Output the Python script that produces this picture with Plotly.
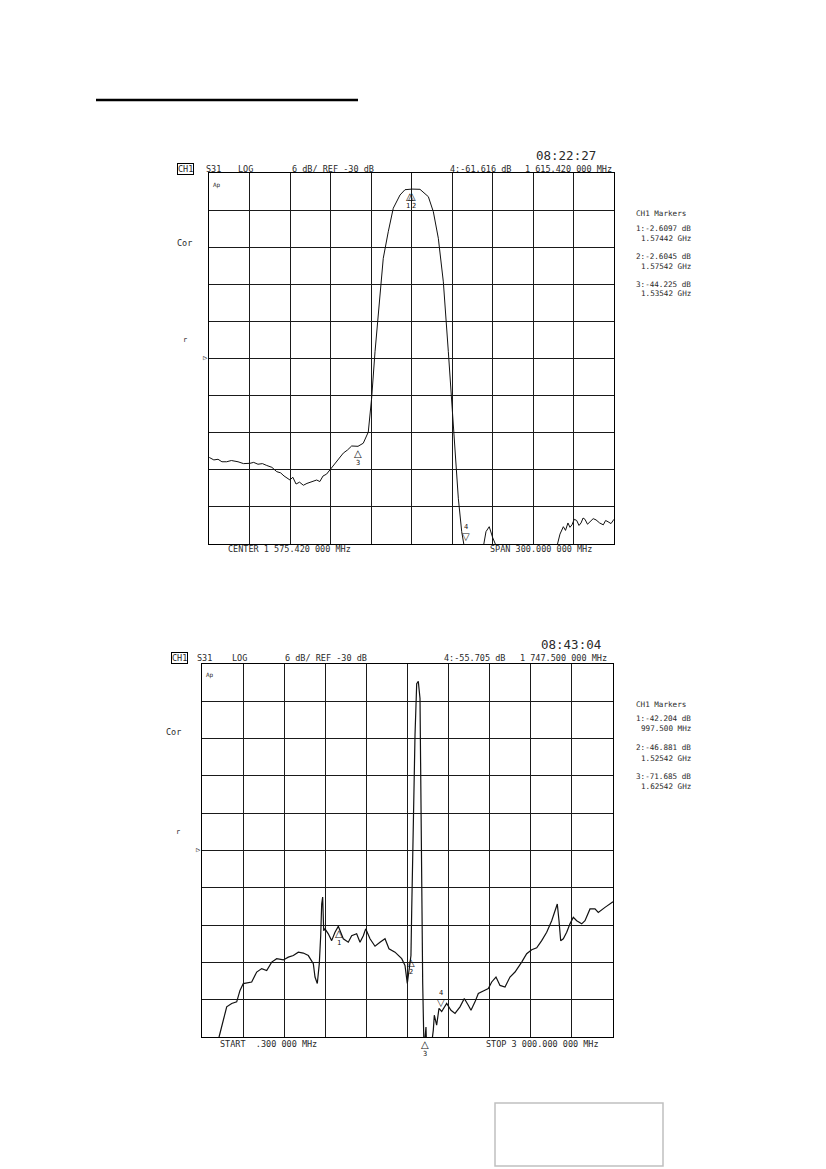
import plotly.graph_objects as go

W, H = 826, 1169
OFF = 8  # default body margin of the html page

# ---- chart 1: S31, center 1575.42 MHz, span 300 MHz ----
f1 = [1425.6, 1429.0, 1432.1, 1435.0, 1438.5, 1442.0, 1446.9, 1451.0, 1455.8, 1458.5,
      1461.7, 1465.0, 1468.2, 1472.0, 1475.6, 1478.5, 1481.0, 1483.5, 1485.4, 1487.5,
      1489.9, 1492.5, 1495.3, 1498.0, 1500.2, 1503.0, 1505.2, 1507.5, 1509.9, 1512.5,
      1515.0, 1517.5, 1520.2, 1522.5, 1524.9, 1528.0, 1531.1, 1535.8,
      1539.7, 1543.4, 1545.9, 1548.4, 1550.8, 1554.5, 1558.2, 1561.9, 1566.9, 1570.6,
      1575.8, 1581.7, 1587.9, 1591.6, 1595.3, 1599.0, 1602.7, 1605.2, 1607.6, 1610.1,
      1612.6, 1615.4, 1628.6, 1630.6, 1633.0, 1635.6, 1638.5, 1683.0, 1685.4, 1687.9,
      1689.5, 1691.3, 1692.8, 1694.3, 1696.0, 1697.8, 1699.5, 1701.0, 1702.5, 1703.9,
      1705.8, 1707.6, 1710.0, 1712.1, 1714.8, 1717.5, 1719.2, 1721.0, 1723.2, 1725.4]
db1 = [-46.0, -46.4, -46.3, -46.7, -46.7, -46.5, -46.7, -47.0, -46.95, -46.8,
       -47.1, -47.0, -47.3, -47.6, -48.3, -48.5, -49.0, -49.4, -49.65, -49.2,
       -50.3, -50.0, -50.5, -50.2, -50.0, -49.8, -49.65, -49.9, -49.0, -48.7,
       -48.0, -47.4, -46.7, -46.0, -45.3, -44.8, -44.15, -44.2,
       -43.7, -41.9, -36.4, -28.9, -22.4, -13.8, -9.5, -5.7, -3.56, -2.7,
       -2.6, -2.64, -3.83, -6.26, -10.56, -17.6, -28.9, -36.4, -44.5, -52.6,
       -58.0, -61.6, -60.5, -58.0, -57.2, -59.0, -60.5, -60.5, -58.4, -57.2,
       -57.8, -56.6, -57.3, -56.9, -56.0, -56.2, -57.0, -56.6, -55.8, -56.0,
       -56.8, -56.4, -55.9, -56.1, -56.6, -56.9, -56.2, -56.4, -56.7, -56.0]
mk1_f = [1574.42, 1575.42, 1535.42, 1615.42]
mk1_db = [-2.6097, -2.6045, -44.225, -61.616]
mk1_lbl = ["1", "2", "3", "4"]

# ---- chart 2: S31, start 0.3 MHz, stop 3000 MHz ----
f2 = [2.5, 119, 131.7, 155.8, 180.6, 217, 253.5, 277.6, 301.7, 363,
      399.5, 436, 472.5, 509, 545.5, 594, 630.4, 666.9, 703.4, 739.8,
      776.3, 812.8, 825, 841.8, 856.4, 866.6, 873.9, 881, 888.5, 898,
      922, 946.6, 971, 995, 1031.6, 1068, 1092.6, 1129, 1153.5, 1177.6,
      1195, 1226.5, 1263, 1299.4, 1336, 1365, 1409, 1458, 1481.9, 1498.7,
      1513.3, 1525.4, 1530.8, 1542.9, 1555, 1567.3, 1579, 1591.4, 1596.5, 1604,
      1611.1, 1620.6, 1627.9, 1635, 1638, 1676.7, 1688.5, 1695.8, 1713, 1730,
      1749.6, 1786, 1817.6, 1846.9, 1883.3, 1914.7, 1943.9, 1963.6, 1992.8, 2017,
      2053.4, 2090, 2114.7, 2146, 2175.3, 2211.8, 2248.2, 2284.8, 2333.6, 2370,
      2406.7, 2443.2, 2479.6, 2516, 2552.6, 2576.7, 2593.4, 2605.9, 2618.2, 2637.3,
      2662, 2686.1, 2710.3, 2735, 2771.6, 2795.6, 2832.1, 2868.6, 2892.6, 2941.6, 3000]
db2 = [-60.5, -60.5, -59.4, -57.3, -55.15, -54.6, -54.35, -52.5, -51.4, -51.15,
       -49.55, -49.0, -49.3, -47.95, -47.4, -47.6, -47.15, -46.9, -46.35, -46.5,
       -46.9, -48.2, -50.35, -51.4, -48.2, -43.7, -38.6, -37.5, -42.9, -42.6,
       -43.4, -44.5, -43.15, -42.2, -44.2, -44.75, -43.7, -43.4, -44.75, -43.7,
       -42.6, -44.2, -45.4, -44.75, -44.2, -45.8, -46.35, -47.4, -48.5, -51.4,
       -49.3, -46.9, -39.7, -24.75, -11.4, -3.15, -2.77, -5.55, -19.4, -35.4,
       -51.4, -62.0, -60.5, -58.4, -60.5, -61.0, -58.9, -56.5, -58.1, -55.4,
       -55.9, -54.6, -55.7, -56.2, -55.15, -53.8, -54.9, -55.7, -54.35, -53.0,
       -52.6, -52.2, -51.15, -50.35, -51.7, -51.95, -50.35, -49.55, -47.95, -46.6,
       -45.95, -45.65, -44.5, -43.15, -41.3, -39.7, -38.6, -41.3, -44.5, -44.2,
       -43.15, -41.8, -40.75, -41.3, -41.8, -41.3, -39.4, -39.4, -39.95, -39.15, -38.25]
mk2_f = [997.5, 1525.42, 1625.42, 1747.5]
mk2_db = [-42.204, -46.881, -71.685, -55.705]
mk2_lbl = ["1", "2", "3", "4"]


def px(x):
    return (x - OFF) / W


def py(y):
    return 1 - (y - OFF) / H


fig = go.Figure()
fig.add_trace(go.Scatter(x=f1, y=db1, mode="lines", line=dict(color="#111", width=1),
                         xaxis="x", yaxis="y", hoverinfo="skip"))
fig.add_trace(go.Scatter(x=f2, y=db2, mode="lines", line=dict(color="#111", width=1.2),
                         xaxis="x2", yaxis="y2", hoverinfo="skip"))

grid = dict(showgrid=True, gridcolor="#1a1a1a", gridwidth=1, showticklabels=False,
            zeroline=False, showline=True, mirror=True, linecolor="#000", linewidth=1,
            ticks="", fixedrange=True)

fig.update_layout(
    width=W, height=H, margin=dict(l=0, r=0, t=0, b=0),
    paper_bgcolor="white", plot_bgcolor="white", showlegend=False,
    xaxis=dict(grid, domain=[px(209), px(614)], range=[1425.42, 1725.42],
               tick0=1425.42, dtick=30, anchor="y"),
    yaxis=dict(grid, domain=[py(544), py(173)], range=[-60, 0], tick0=0, dtick=6, anchor="x"),
    xaxis2=dict(grid, domain=[px(202), px(613)], range=[0.3, 3000],
                tick0=0.3, dtick=299.97, anchor="y2"),
    yaxis2=dict(grid, domain=[py(1037), py(664)], range=[-60, 0], tick0=0, dtick=6, anchor="x2"),
)

mono = "DejaVu Sans Mono"
txt_col = "#2a2a2a"


def label(x, y, s, size=8.5, box=False, anchor="left"):
    fig.add_annotation(x=px(x), y=py(y), xref="paper", yref="paper", text=s,
                       showarrow=False, xanchor=anchor, yanchor="middle",
                       font=dict(family=mono, size=size, color=txt_col),
                       bordercolor="#000" if box else None, borderwidth=1 if box else 0,
                       borderpad=0)


# page decorations
fig.add_shape(type="line", xref="paper", yref="paper", x0=px(96), x1=px(358),
              y0=py(100), y1=py(100), line=dict(color="#000", width=2.5))
fig.add_shape(type="rect", xref="paper", yref="paper", x0=px(495), x1=px(663),
              y0=py(1166), y1=py(1103), line=dict(color="#c0c0c0", width=1.5))

# chart 1 texts
label(536, 155, "08:22:27", size=12.5)
label(177, 169, "CH1", box=True)
label(206, 169, "S31")
label(238, 169, "LOG")
label(292, 169, "6 dB/ REF -30 dB")
label(450, 169, "4:-61.616 dB")
label(525, 169, "1 615.420 000 MHz")
label(177, 243, "Cor")
label(183, 340, "r", size=7)
label(203, 358, "▷", size=7)
label(213, 185, "Ap", size=6)
for yy, s, xx in [(214, "CH1 Markers", 636), (228, "1:-2.6097 dB", 636), (238, "1.57442 GHz", 641),
                  (256, "2:-2.6045 dB", 636), (266, "1.57542 GHz", 641),
                  (284, "3:-44.225 dB", 636), (294, "1.53542 GHz", 641)]:
    label(xx, yy, s, size=7.6)
label(228, 549, "CENTER 1 575.420 000 MHz")
label(490, 549, "SPAN 300.000 000 MHz")

# chart 2 texts
label(541, 644, "08:43:04", size=12.5)
label(171, 658, "CH1", box=True)
label(197, 658, "S31")
label(232, 658, "LOG")
label(285, 658, "6 dB/ REF -30 dB")
label(444, 658, "4:-55.705 dB")
label(520, 658, "1 747.500 000 MHz")
label(166, 732, "Cor")
label(176, 832, "r", size=7)
label(196, 850, "▷", size=7)
label(206, 675, "Ap", size=6)
for yy, s, xx in [(704, "CH1 Markers", 636), (718, "1:-42.204 dB", 636), (728, "997.500 MHz", 641),
                  (748, "2:-46.881 dB", 636), (758, "1.52542 GHz", 641),
                  (776, "3:-71.685 dB", 636), (786, "1.62542 GHz", 641)]:
    label(xx, yy, s, size=7.6)
label(220, 1044, "START  .300 000 MHz")
label(486, 1044, "STOP 3 000.000 000 MHz")


# marker symbols: active marker (4) drawn above trace, others below
def markers(fs, dbs, lbls, xr, yr, dx):
    for f, d, l, sh in zip(fs, dbs, lbls, dx):
        yv = max(d, -60)
        active = l == "4"
        fig.add_annotation(x=f, y=yv, xref=xr, yref=yr, text="△" if not active else "▽",
                           showarrow=False, xanchor="center",
                           yanchor="top" if not active else "bottom",
                           font=dict(family="DejaVu Sans", size=10, color="#111"))
        fig.add_annotation(x=f, y=yv, xref=xr, yref=yr, text=l, showarrow=False,
                           xanchor="center", yanchor="middle", xshift=sh,
                           yshift=-17 if not active else 17,
                           font=dict(family=mono, size=7, color="#111"))


markers(mk1_f, mk1_db, mk1_lbl, "x", "y", [-2, 2, 0, 0])
markers(mk2_f, mk2_db, mk2_lbl, "x2", "y2", [0, 0, 0, 0])

fig.write_html("out.html")
